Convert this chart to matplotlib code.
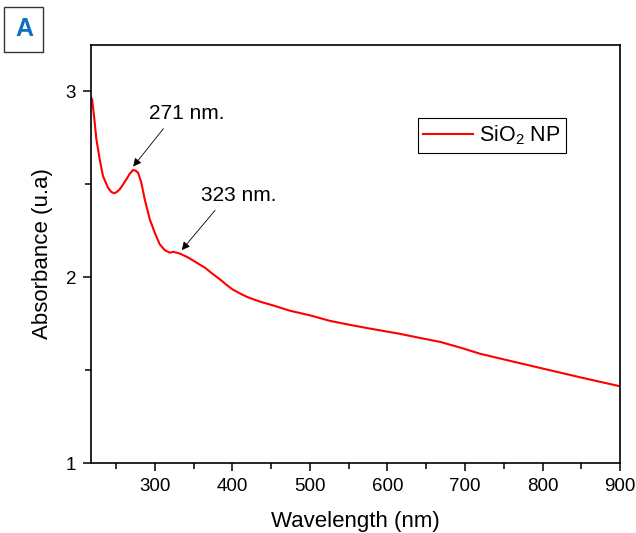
import numpy as np
import matplotlib
matplotlib.use('Agg')
import matplotlib.pyplot as plt
from matplotlib.ticker import MultipleLocator

plt.rcParams['font.family'] = ['Liberation Sans', 'DejaVu Sans']
plt.rcParams['mathtext.fontset'] = 'custom'
plt.rcParams['mathtext.rm'] = 'Liberation Sans'

# values
wavelength = [218, 219, 221.5, 224.5, 228.8, 233, 239.5, 243.5, 247.3, 250.5, 254.6,
              258.5, 263.2, 267.5, 271.8, 275, 278.3, 282.5, 286.9, 293.4, 299.8,
              306.3, 312.7, 319.2, 323.4, 332, 343, 354, 365, 375.4, 385, 392.7,
              400, 410, 420, 436, 452.8, 474, 500, 526, 550, 573, 600, 614,
              640, 668, 695, 719.6, 760, 806, 850, 900]
absorbance = [2.965, 2.958, 2.868, 2.743, 2.635, 2.545, 2.482, 2.46, 2.452, 2.458,
              2.473, 2.497, 2.527, 2.557, 2.577, 2.574, 2.563, 2.509, 2.419, 2.312,
              2.24, 2.177, 2.146, 2.132, 2.137, 2.128, 2.106, 2.078, 2.05, 2.015,
              1.985, 1.958, 1.935, 1.912, 1.892, 1.868, 1.848, 1.82, 1.795, 1.765,
              1.745, 1.727, 1.707, 1.697, 1.675, 1.652, 1.62, 1.588, 1.548, 1.503,
              1.46, 1.413]

peak_labels = ['271 nm.', '323 nm.']
peak_xy = [(272, 2.596), (334.6, 2.146)]
label_xy = [(311, 2.80), (377.6, 2.36)]

fig = plt.figure(figsize=(6.36, 5.33), dpi=100)
ax = fig.add_axes([0.1436, 0.1313, 0.8313, 0.7842])

ax.plot(wavelength, absorbance, color='red', lw=1.5, label=r'SiO$_2$ NP')

for txt, xy, xyt in zip(peak_labels, peak_xy, label_xy):
    ax.annotate('', xy=xy, xytext=xyt,
                arrowprops=dict(arrowstyle='-|>', color='black', lw=0.6,
                                mutation_scale=12, shrinkA=0, shrinkB=0))
    ax.text(xyt[0] + 30, xyt[1] + 0.03, txt, fontsize=15, ha='center', va='bottom')

ax.set_xlim(218, 900)
ax.set_ylim(1, 3.25)
ax.xaxis.set_major_locator(MultipleLocator(100))
ax.xaxis.set_minor_locator(MultipleLocator(50))
ax.yaxis.set_major_locator(MultipleLocator(1))
ax.yaxis.set_minor_locator(MultipleLocator(0.5))
ax.tick_params(which='both', direction='out', width=1.1, labelsize=13.5, pad=5)
ax.tick_params(which='major', length=6)
ax.tick_params(which='minor', length=4)
for s in ax.spines.values():
    s.set_linewidth(1.2)

ax.set_xlabel('Wavelength (nm)', fontsize=16, labelpad=11)
ax.set_ylabel('Absorbance (u.a)', fontsize=16, labelpad=9)

leg = ax.legend(loc='upper left', bbox_to_anchor=(0.618, 0.825), fontsize=15.5,
                fancybox=False, edgecolor='black', framealpha=1,
                handlelength=2.3, borderpad=0.25, handletextpad=0.3,
                borderaxespad=0)
leg.get_frame().set_linewidth(0.8)

fig.text(0.0377, 0.9455, 'A', fontsize=18, fontweight='bold', color='#1070C0',
         ha='center', va='center',
         bbox=dict(boxstyle='square,pad=0.42', facecolor='white',
                   edgecolor='#333333', lw=1.0))

fig.savefig('out.png', dpi=100)
